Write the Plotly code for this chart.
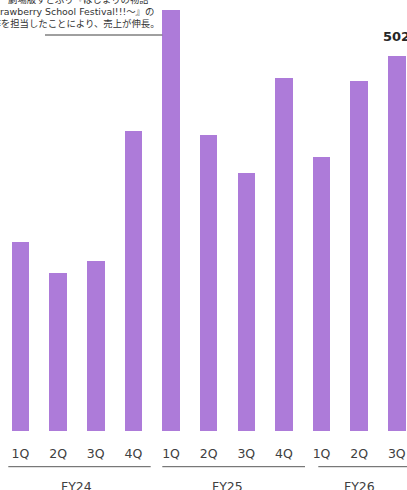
import plotly.graph_objects as go

# Quarterly net sales by fiscal year (FY26 reported through 3Q)
quarters = ["1Q", "2Q", "3Q", "4Q", "1Q", "2Q", "3Q", "4Q", "1Q", "2Q", "3Q"]
sales = [253, 211, 228, 401, 564, 396, 345, 472, 367, 468, 502]
fiscal_years = ["FY24", "FY25", "FY26"]
fy_groups = [[0, 1, 2, 3], [4, 5, 6, 7], [8, 9, 10]]
note_lines = [
    "劇場版すとぷり『はじまりの物語",
    "～Strawberry School Festival!!!～』の",
    "制作を担当したことにより、売上が伸長。",
]

W, H = 407, 490
PLOT_B = 59
PLOT_H = H - PLOT_B
STEP = 37.63          # px per category
FIRST = 20.5          # px centre of first bar
BAR_COLOR = "#AD7BD9"
TEXT = "#404040"
FONT = "DejaVu Sans, Noto Sans CJK JP"

x = list(range(len(sales)))
x_range = [-FIRST / STEP, (W - FIRST) / STEP]


def px_to_x(px):
    return (px - FIRST) / STEP


def py_to_paper(py):
    return (PLOT_H - py) / PLOT_H


fig = go.Figure(
    go.Bar(
        x=x,
        y=sales,
        width=0.465,
        marker=dict(color=BAR_COLOR, line=dict(width=0)),
        hoverinfo="skip",
    )
)

shapes = []
annotations = []

# Bracket lines under each fiscal year and the year labels
fy_spans = [(px_to_x(8.3), px_to_x(150.7)), (px_to_x(162.3), px_to_x(305)), (px_to_x(318.3), px_to_x(412))]
for name, idx, (a, b) in zip(fiscal_years, fy_groups, fy_spans):
    shapes.append(dict(type="line", xref="x", yref="paper",
                       x0=a, x1=b, y0=py_to_paper(466.7), y1=py_to_paper(466.7),
                       line=dict(color="#595959", width=1)))
    annotations.append(dict(x=sum(idx) / len(idx), xref="x", y=py_to_paper(487), yref="paper",
                            text=name, showarrow=False, xanchor="center", yanchor="middle",
                            font=dict(family=FONT, size=12.5, color=TEXT)))

# Value label on the latest quarter
annotations.append(dict(x=x[-1], y=sales[-1], xref="x", yref="y",
                        text=f"<b>{sales[-1]}</b>", showarrow=False,
                        xanchor="center", yanchor="bottom", yshift=10,
                        font=dict(family=FONT, size=13, color="#262626")))

# Commentary lines with leader line to FY25 1Q
note_pos = [(150, -0.5), (155, 11.5), (161, 23.5)]
for line, (rx, cy) in zip(note_lines, note_pos):
    annotations.append(dict(x=rx / W, xref="paper", y=py_to_paper(cy), yref="paper",
                            text=line, showarrow=False, xanchor="right", yanchor="middle",
                            borderpad=0,
                            font=dict(family=FONT, size=9.4, color="#333333")))
shapes.append(dict(type="line", xref="x", yref="paper",
                   x0=px_to_x(45), x1=x[4] - 0.2325,
                   y0=py_to_paper(35), y1=py_to_paper(35),
                   line=dict(color="#404040", width=1)))

fig.update_layout(
    width=W, height=H,
    margin=dict(l=0, r=0, t=0, b=PLOT_B, pad=0),
    paper_bgcolor="white", plot_bgcolor="white",
    showlegend=False,
    bargap=0,
    shapes=shapes,
    annotations=annotations,
    xaxis=dict(range=x_range, tickmode="array", tickvals=x, ticktext=quarters,
               showgrid=False, zeroline=False, showline=False, ticks="",
               tickfont=dict(family=FONT, size=12.5, color=TEXT),
               ticklabelstandoff=13, fixedrange=True),
    yaxis=dict(range=[0, PLOT_H * 502 / 375], visible=False, fixedrange=True),
)

fig.write_html("out.html")
